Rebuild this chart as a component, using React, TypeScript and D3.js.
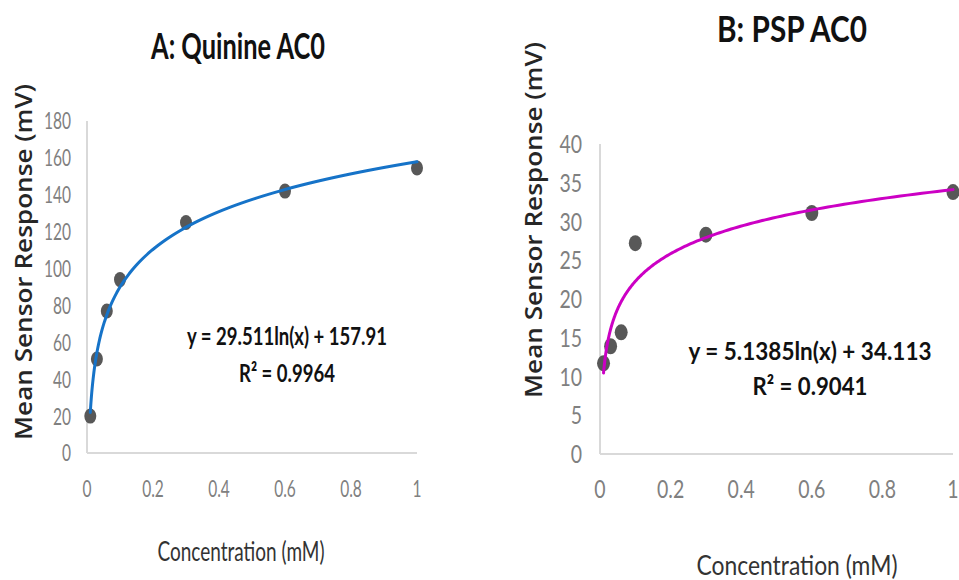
import React from "react";
import * as d3 from "d3";

// ---------- data ----------
const concA = [0.01, 0.03, 0.06, 0.1, 0.3, 0.6, 1];
const respA = [20, 51, 77, 94, 125, 142, 154.5];
const fitA = { a: 29.511, b: 157.91, r2: "0.9964" };
const yTicksA = [0, 20, 40, 60, 80, 100, 120, 140, 160, 180];

const concB = [0.01, 0.03, 0.06, 0.1, 0.3, 0.6, 1];
const respB = [11.7, 13.9, 15.7, 27.2, 28.3, 31.1, 33.8];
const fitB = { a: 5.1385, b: 34.113, r2: "0.9041" };
const yTicksB = [0, 5, 10, 15, 20, 25, 30, 35, 40];

const xTicks = [0, 0.2, 0.4, 0.6, 0.8, 1];
const xTickLabels = ["0", "0.2", "0.4", "0.6", "0.8", "1"];

const titleA = "A: Quinine AC0";
const titleB = "B: PSP AC0";
const yTitle = "Mean Sensor Response (mV)";
const xTitle = "Concentration (mM)";

// ---------- helpers ----------
type LabelProps = {
  x: number;
  y: number;
  text: string;
  size: number;
  w?: number;
  sx?: number;
  anchor?: "start" | "middle" | "end";
  weight?: number | string;
  fill?: string;
  font?: string;
  rotate?: number;
};

function Label({
  x,
  y,
  text,
  size,
  w,
  sx = 1,
  anchor = "middle",
  weight = 400,
  fill = "#000",
  font = "Lato, 'Open Sans', sans-serif",
  rotate = 0,
}: LabelProps) {
  if (w !== undefined) {
    const off = anchor === "middle" ? -w / 2 : anchor === "end" ? -w : 0;
    return (
      <text
        transform={`translate(${x},${y}) rotate(${rotate})`}
        x={off}
        y={0}
        textLength={w}
        lengthAdjust="spacingAndGlyphs"
        fontSize={size}
        fontWeight={weight}
        fill={fill}
        fontFamily={font}
      >
        {text}
      </text>
    );
  }
  return (
    <text
      transform={`translate(${x},${y}) rotate(${rotate}) scale(${sx},1)`}
      textAnchor={anchor}
      fontSize={size}
      fontWeight={weight}
      fill={fill}
      fontFamily={font}
    >
      {text}
    </text>
  );
}

type PanelProps = {
  conc: number[];
  resp: number[];
  fit: { a: number; b: number; r2: string };
  yTicks: number[];
  yMax: number;
  xRange: [number, number];
  yRange: [number, number];
  color: string;
  title: string;
  titleX: number;
  titleY: number;
  titleW: number;
  titleSize: number;
  yTitleX: number;
  yTitleY: number;
  yTitleW: number;
  xTitleX: number;
  xTitleY: number;
  xTitleW: number;
  xTitleSize: number;
  tickSize: number;
  tickSx: number;
  yTickRight: number;
  xTickBase: number;
  eqX: number;
  eqY: number;
  eqW: number;
  r2Y: number;
  r2W: number;
  eqSize: number;
  dotRx: number;
  dotRy: number;
};

function Panel(p: PanelProps) {
  const x = d3.scaleLinear().domain([0, 1]).range(p.xRange);
  const y = d3.scaleLinear().domain([0, p.yMax]).range(p.yRange);
  const xs0 = d3.min(p.conc) as number;
  const xs1 = d3.max(p.conc) as number;
  // sample the fitted trendline densely in log space between first and last concentration
  const fx = d3
    .scaleLinear()
    .domain([0, 200])
    .range([Math.log(xs0), Math.log(xs1)]);
  const curveXs = d3.range(0, 201).map((i) => Math.exp(fx(i)));
  const line = d3
    .line<number>()
    .x((c) => x(c))
    .y((c) => y(p.fit.a * Math.log(c) + p.fit.b));
  return (
    <g>
      <Label
        x={p.titleX}
        y={p.titleY}
        text={p.title}
        size={p.titleSize}
        w={p.titleW}
        weight={700}
        fill="#111"
      />
      <Label
        x={p.yTitleX}
        y={p.yTitleY}
        text={yTitle}
        size={23.5}
        w={p.yTitleW}
        weight={600}
        fill="#262626"
        font="'Open Sans', 'DejaVu Sans', sans-serif"
        rotate={-90}
      />
      {/* axes */}
      <line
        x1={x(0)}
        x2={x(0)}
        y1={y(0)}
        y2={y(p.yMax)}
        stroke="#d9d9d9"
        strokeWidth={2}
      />
      <line
        x1={x(0)}
        x2={x(1)}
        y1={y(0)}
        y2={y(0)}
        stroke="#d9d9d9"
        strokeWidth={2}
      />
      {p.yTicks.map((t) => (
        <Label
          key={"y" + t}
          x={p.yTickRight}
          y={y(t) + p.tickSize * 0.36}
          text={String(t)}
          size={p.tickSize}
          sx={p.tickSx}
          anchor="end"
          weight={400}
          fill="#808080"
        />
      ))}
      {xTicks.map((t, i) => (
        <Label
          key={"x" + t}
          x={x(t)}
          y={p.xTickBase}
          text={xTickLabels[i]}
          size={p.tickSize}
          sx={p.tickSx}
          anchor="middle"
          weight={400}
          fill="#808080"
        />
      ))}
      <Label
        x={p.xTitleX}
        y={p.xTitleY}
        text={xTitle}
        size={p.xTitleSize}
        w={p.xTitleW}
        weight={400}
        fill="#333"
      />
      {/* points */}
      {p.conc.map((c, i) => (
        <ellipse
          key={"p" + i}
          cx={x(c)}
          cy={y(p.resp[i])}
          rx={p.dotRx}
          ry={p.dotRy}
          fill="#585858"
        />
      ))}
      {/* trendline */}
      <path
        d={line(curveXs) || ""}
        fill="none"
        stroke={p.color}
        strokeWidth={3}
        strokeLinecap="round"
      />
      <Label
        x={p.eqX}
        y={p.eqY}
        text={`y = ${p.fit.a}ln(x) + ${p.fit.b}`}
        size={p.eqSize}
        w={p.eqW}
        weight={700}
        fill="#111"
      />
      <Label
        x={p.eqX}
        y={p.r2Y}
        text={`R² = ${p.fit.r2}`}
        size={p.eqSize}
        w={p.r2W}
        weight={700}
        fill="#111"
      />
    </g>
  );
}

export default function App() {
  return (
    <svg
      width={959}
      height={580}
      style={{ position: "absolute", left: 0, top: 0, background: "#fff" }}
    >
      <rect x={0} y={0} width={959} height={580} fill="#fff" />
      <Panel
        conc={concA}
        resp={respA}
        fit={fitA}
        yTicks={yTicksA}
        yMax={180}
        xRange={[87, 417]}
        yRange={[453, 121]}
        color="#1673c8"
        title={titleA}
        titleX={238}
        titleY={59}
        titleW={174}
        titleSize={36}
        yTitleX={32}
        yTitleY={262}
        yTitleW={356}
        xTitleX={241}
        xTitleY={561}
        xTitleW={167}
        xTitleSize={27}
        tickSize={23.5}
        tickSx={0.66}
        yTickRight={71}
        xTickBase={497}
        eqX={287}
        eqY={345}
        eqW={200}
        r2Y={382}
        r2W={96}
        eqSize={25}
        dotRx={6}
        dotRy={7.5}
      />
      <Panel
        conc={concB}
        resp={respB}
        fit={fitB}
        yTicks={yTicksB}
        yMax={40}
        xRange={[600, 953]}
        yRange={[454, 144]}
        color="#cc00c4"
        title={titleB}
        titleX={792}
        titleY={42}
        titleW={150}
        titleSize={37}
        yTitleX={542}
        yTitleY={220}
        yTitleW={356}
        xTitleX={797}
        xTitleY={575}
        xTitleW={201}
        xTitleSize={26}
        tickSize={25}
        tickSx={0.78}
        yTickRight={582}
        xTickBase={498}
        eqX={810}
        eqY={360}
        eqW={243}
        r2Y={395}
        r2W={115}
        eqSize={25}
        dotRx={6.5}
        dotRy={8}
      />
    </svg>
  );
}
